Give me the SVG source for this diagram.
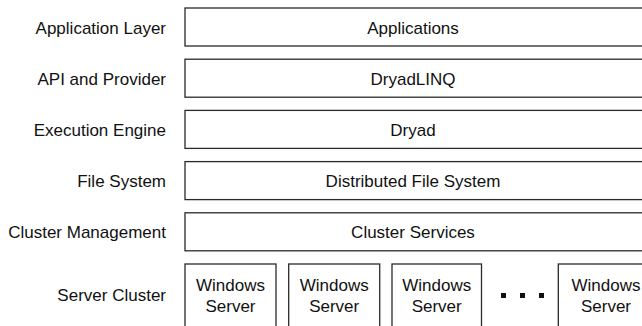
<svg xmlns="http://www.w3.org/2000/svg" width="642" height="326" viewBox="0 0 642 326">
<style>
.box{fill:#fff;stroke:#2a2a2a;stroke-width:1.3}
text{font-family:"Liberation Sans",Arial,sans-serif;font-size:17px;fill:#111}
.lbl{text-anchor:end}
.c{text-anchor:middle}
</style>
<rect width="642" height="326" fill="#fff"/>
<g id="labels">
<text class="lbl" x="166" y="34">Application Layer</text>
<text class="lbl" x="166" y="85">API and Provider</text>
<text class="lbl" x="166" y="136">Execution Engine</text>
<text class="lbl" x="166" y="187">File System</text>
<text class="lbl" x="166" y="238">Cluster Management</text>
<text class="lbl" x="166" y="301">Server Cluster</text>
</g>
<g id="applications"><rect class="box" x="185" y="8" width="462" height="38"/><text class="c" x="413" y="33.5">Applications</text></g>
<g id="dryadlinq"><rect class="box" x="185" y="59.2" width="462" height="38"/><text class="c" x="413" y="84.7">DryadLINQ</text></g>
<g id="dryad"><rect class="box" x="185" y="110.4" width="462" height="38"/><text class="c" x="413" y="135.9">Dryad</text></g>
<g id="dfs"><rect class="box" x="185" y="161.6" width="462" height="38"/><text class="c" x="413" y="187.1">Distributed File System</text></g>
<g id="cluster-services"><rect class="box" x="185" y="212.8" width="462" height="38"/><text class="c" x="413" y="238.3">Cluster Services</text></g>
<g id="server1"><rect class="box" x="185" y="264" width="91" height="80"/><text class="c" x="230.5" y="290.7">Windows</text><text class="c" x="230.5" y="311.7">Server</text></g>
<g id="server2"><rect class="box" x="288.7" y="264" width="91" height="80"/><text class="c" x="334.2" y="290.7">Windows</text><text class="c" x="334.2" y="311.7">Server</text></g>
<g id="server3"><rect class="box" x="392" y="264" width="89.5" height="80"/><text class="c" x="436.7" y="290.7">Windows</text><text class="c" x="436.7" y="311.7">Server</text></g>
<g id="ellipsis" fill="#111"><rect x="501" y="293" width="5" height="5"/><rect x="520" y="293" width="5" height="5"/><rect x="539" y="293" width="5" height="5"/></g>
<g id="server4"><rect class="box" x="558.3" y="264" width="96" height="80"/><text class="c" x="606" y="290.7">Windows</text><text class="c" x="606" y="311.7">Server</text></g>
<g id="connectors"></g>
</svg>
